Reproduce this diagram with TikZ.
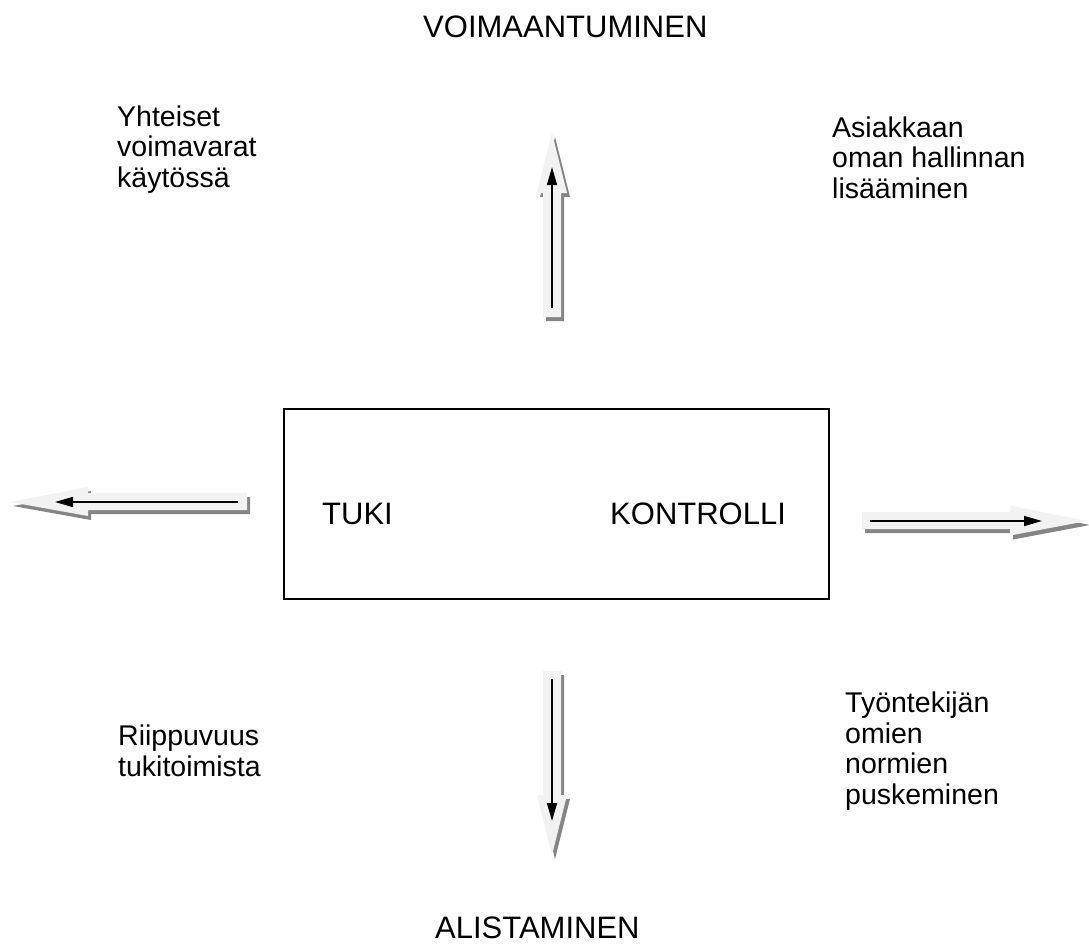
\documentclass[tikz,border=0pt]{standalone}
\usepackage{fontspec}
\setmainfont{Liberation Sans}
\usetikzlibrary{arrows.meta}
\definecolor{arrowfill}{HTML}{F2F2F2}
\definecolor{arrowshade}{HTML}{858585}
\tikzset{
  bigtext/.style={inner sep=0pt, anchor=base west, font=\fontsize{31}{37}\selectfont},
  smalltext/.style={inner sep=0pt, anchor=base west, align=left, font=\fontsize{28.5}{30.5}\selectfont},
  blockfill/.style={fill=arrowfill},
  blockshade/.style={fill=arrowshade, shift={(3,4)}},
  inarrow/.style={line width=1.6pt, -{Triangle[length=18pt,width=10pt]}},
  mainbox/.style={draw, line width=1.5pt, minimum width=545pt, minimum height=190pt, anchor=north west, inner sep=0pt}
}
\newcommand\upblock{(543,317) -- (543,193) -- (537,193) -- (552,133) -- (567,193) -- (561,193) -- (561,317) -- cycle}
\newcommand\downblock{(543,671) -- (543,795) -- (537,795) -- (552,855) -- (567,795) -- (561,795) -- (561,671) -- cycle}
\newcommand\leftblock{(247,493) -- (88,493) -- (88,487) -- (10,502) -- (88,516) -- (88,510) -- (247,510) -- cycle}
\newcommand\rightblock{(862,512) -- (1010,512) -- (1010,505.5) -- (1087,521) -- (1010,535.5) -- (1010,529) -- (862,529) -- cycle}
\begin{document}
\begin{tikzpicture}[x=1pt,y=-1pt]
\useasboundingbox (0,0) rectangle (1089,945);
% block arrows: shadow then body
\fill[blockshade] \upblock;
\fill[blockfill] \upblock;
\fill[blockshade] \downblock;
\fill[blockfill] \downblock;
\fill[blockshade] \leftblock;
\fill[blockfill] \leftblock;
\fill[blockshade] \rightblock;
\fill[blockfill] \rightblock;
% inner arrows
\coordinate (ua) at (552,308);
\coordinate (ub) at (552,167);
\coordinate (da) at (552,679);
\coordinate (db) at (552,821);
\coordinate (la) at (238,502);
\coordinate (lb) at (55,502);
\coordinate (ra) at (870,521);
\coordinate (rb) at (1042,521);
\draw[inarrow] (ua) -- (ub);
\draw[inarrow] (da) -- (db);
\draw[inarrow] (la) -- (lb);
\draw[inarrow] (ra) -- (rb);
% central box
\node[mainbox] (box) at (283,408) {};
\node[bigtext] (tuki) at (322,524) {TUKI};
\node[bigtext] (kontrolli) at (610,524) {KONTROLLI};
% titles
\node[bigtext] (voima) at (423,37) {VOIMAANTUMINEN};
\node[bigtext] (alist) at (435,938) {ALISTAMINEN};
% corner texts (base anchor = baseline of last line)
\node[smalltext] (yht) at (117,187) {Yhteiset\\voimavarat\\käytössä};
\node[smalltext] (asi) at (832,198) {Asiakkaan\\oman hallinnan\\lisääminen};
\node[smalltext] (rii) at (118,776) {Riippuvuus\\tukitoimista};
\node[smalltext] (tyo) at (845,804) {Työntekijän\\omien\\normien\\puskeminen};
\end{tikzpicture}
\end{document}
